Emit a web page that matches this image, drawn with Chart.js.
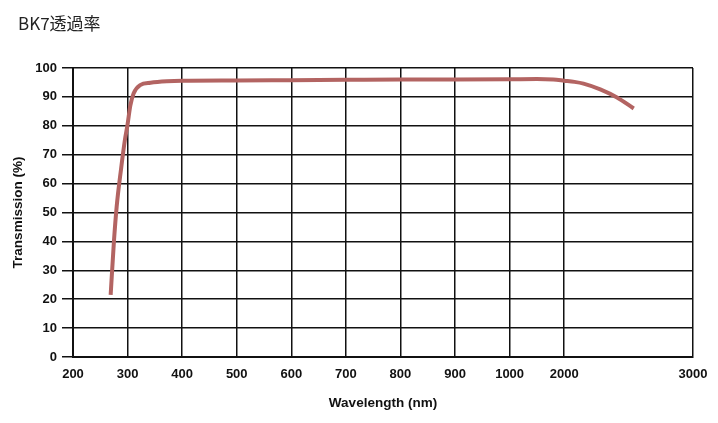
<!DOCTYPE html>
<html>
<head>
<meta charset="utf-8">
<script src="https://cdn.jsdelivr.net/npm/chart.js@4"></script>
<style>
  html, body { margin: 0; padding: 0; background: #fff; }
  #wrap { width: 718px; height: 423px; position: relative; }
</style>
</head>
<body>
<div id="wrap"><canvas id="bk7Chart"></canvas></div>
<script>
// Wavelength (nm) and transmission (%)
const wavelengths = [269, 275, 280, 288, 295, 300, 305, 311, 323, 342, 372, 400, 500, 600, 700, 800, 900, 1000, 1500, 1800, 2000, 2080, 2150, 2280, 2410, 2540];
const transmission = [21.5, 40, 52, 65, 75, 80.5, 87, 91.2, 94.1, 94.9, 95.4, 95.6, 95.7, 95.8, 95.9, 96, 96, 96.1, 96.2, 96, 95.6, 95.2, 94.6, 92.6, 89.8, 86];

// Tick labels on the axes
const xTickLabels = [200, 300, 400, 500, 600, 700, 800, 900, 1000, 2000, 3000];
const yTickLabels = [0, 10, 20, 30, 40, 50, 60, 70, 80, 90, 100];

// The printed axis is not uniform: 100 nm steps up to 1000, then 2000, then a wider gap to 3000
function axisPos(nm) {
  if (nm <= 1000) return (nm - 200) / 100;
  if (nm <= 2000) return 8 + (nm - 1000) / 1000;
  return 9 + (nm - 2000) / 1000 * 2.36;
}

const tickFont = { family: "'Liberation Sans', Arial, sans-serif", size: 13, weight: 'bold' };
const titleFont = { family: "'Liberation Sans', Arial, sans-serif", size: 13.5, weight: 'bold' };

// Title in the top-left corner
const cornerTitle = {
  id: 'cornerTitle',
  afterDraw(chart) {
    const ctx = chart.ctx;
    ctx.save();
    ctx.fillStyle = '#222';
    ctx.font = "17px 'Noto Sans CJK JP', sans-serif";
    ctx.textBaseline = 'middle';
    ctx.fillText('BK7透過率', 18, 24);
    ctx.restore();
  }
};

function createBK7Chart() {
  const ctx = document.getElementById('bk7Chart').getContext('2d');
  new Chart(ctx, {
    type: 'line',
    data: {
      datasets: [{
        label: 'BK7',
        data: wavelengths.map((nm, i) => ({ x: axisPos(nm), y: transmission[i] })),
        borderColor: '#b36462',
        borderWidth: 4,
        pointRadius: 0,
        cubicInterpolationMode: 'monotone',
        fill: false
      }]
    },
    options: {
      responsive: true,
      maintainAspectRatio: false,
      animation: false,
      layout: {
        padding: { left: 10, right: 25, top: 68, bottom: 10 }
      },
      plugins: {
        legend: { display: false },
        tooltip: { enabled: false }
      },
      scales: {
        x: {
          type: 'linear',
          min: 0,
          max: axisPos(3000),
          afterBuildTicks: (scale) => {
            scale.ticks = xTickLabels.map(v => ({ value: axisPos(v) }));
          },
          afterFit: (scale) => { scale.height = 56; },
          grid: {
            color: '#111',
            lineWidth: 1.5,
            drawTicks: false
          },
          border: { color: '#111', width: 2 },
          ticks: {
            padding: 10,
            color: '#111',
            font: tickFont,
            maxRotation: 0,
            autoSkip: false,
            callback: (value, index) => xTickLabels[index]
          },
          title: {
            display: true,
            text: 'Wavelength (nm)',
            color: '#111',
            font: titleFont,
            padding: { top: 0, bottom: 2 }
          }
        },
        y: {
          min: 0,
          max: 100,
          afterBuildTicks: (scale) => {
            scale.ticks = yTickLabels.map(v => ({ value: v }));
          },
          afterFit: (scale) => { scale.width = 63; },
          grid: {
            color: '#111',
            lineWidth: 1.5,
            tickLength: 11
          },
          border: { color: '#111', width: 2 },
          ticks: {
            padding: 5,
            color: '#111',
            font: tickFont
          },
          title: {
            display: true,
            text: 'Transmission (%)',
            color: '#111',
            font: titleFont,
            padding: 0
          }
        }
      }
    },
    plugins: [cornerTitle]
  });
}

createBK7Chart();
</script>
</body>
</html>
